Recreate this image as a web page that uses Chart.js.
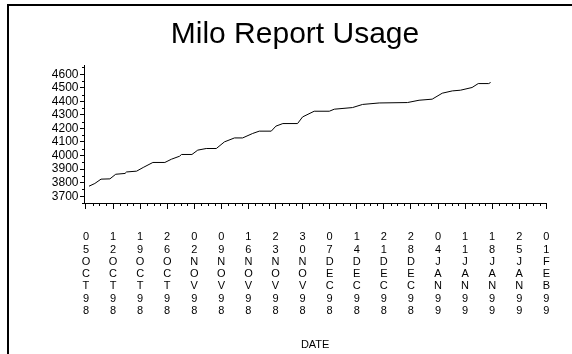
<!DOCTYPE html>
<html lang="en">
  <head>
    <meta charset="UTF-8" />
    <title>Milo Report Usage</title>
    <script src="https://cdn.jsdelivr.net/npm/chart.js"></script>
    <style>
      html, body { margin: 0; padding: 0; background: #fff; }
      #frame {
        position: absolute; left: 7px; top: 4px; width: 565px; height: 350px;
        border-left: 2px solid #000; border-top: 2px solid #000;
      }
      #title {
        position: absolute; left: 0; top: 15px; width: 590px;
        text-align: center; font: 30px/36px 'Liberation Sans', Arial, sans-serif;
        color: #000;
      }
      canvas { display: block; }
    </style>
  </head>
  <body>
    <div id="frame"><canvas id="chart" width="563" height="348"></canvas></div>
    <div id="title">Milo Report Usage</div>

    <script>
      // weekly tick labels, 05OCT98 = day 0
      const tickLabels = [
        "05OCT98", "12OCT98", "19OCT98", "26OCT98", "02NOV98", "09NOV98",
        "16NOV98", "23NOV98", "30NOV98", "07DEC98", "14DEC98", "21DEC98",
        "28DEC98", "04JAN99", "11JAN99", "18JAN99", "25JAN99", "01FEB99",
      ];
      const yTicks = [3700, 3800, 3900, 4000, 4100, 4200, 4300, 4400, 4500, 4600];

      // days since 05OCT98
      const dayOffsets = [
        0.8, 2.3, 3.9, 6.2, 7.7, 10.1, 10.5, 13.1, 14.8, 17.3, 20.4, 22.1,
        24.2, 24.7, 27.4, 28.9, 31.1, 33.7, 35.8, 38.4, 40.5, 43.1, 44.8,
        47.9, 49.1, 50.9, 54.7, 56.0, 59.0, 62.9, 64.2, 68.9, 71.5, 75.8,
        83.1, 86.1, 89.5, 92.1, 94.7, 96.8, 99.8, 101.4, 104.1, 104.6,
      ];
      const usage = [
        3774, 3794, 3826, 3828, 3862, 3868, 3879, 3885, 3912, 3949, 3949, 3973,
        3995, 4008, 4008, 4040, 4052, 4052, 4101, 4130, 4130, 4163, 4180,
        4180, 4217, 4236, 4236, 4285, 4327, 4327, 4342, 4354, 4377, 4388,
        4391, 4408, 4416, 4460, 4477, 4482, 4502, 4531, 4531, 4539,
      ];

      const FONT = "'Liberation Sans', Arial, sans-serif";

      // small in-between tick marks, like the original plot
      const minorTicks = {
        id: "minorTicks",
        afterDraw(chart) {
          const ctx = chart.ctx;
          const x = chart.scales.x;
          const y = chart.scales.y;
          ctx.save();
          ctx.strokeStyle = "#000";
          ctx.lineWidth = 1;
          ctx.beginPath();
          for (let w = 0; w < tickLabels.length - 1; w++) {
            for (let m = 1; m <= 3; m++) {
              const px = Math.round(x.getPixelForValue(w * 7 + m * 1.75)) + 0.5;
              ctx.moveTo(px, x.top);
              ctx.lineTo(px, x.top + 3);
            }
          }
          for (let v = 3650; v <= 4650; v += 100) {
            const py = Math.round(y.getPixelForValue(v)) + 0.5;
            ctx.moveTo(y.right - 2, py);
            ctx.lineTo(y.right, py);
          }
          ctx.stroke();
          ctx.restore();
        },
      };

      new Chart(document.getElementById("chart"), {
        type: "line",
        data: {
          datasets: [
            {
              data: dayOffsets.map((d, i) => ({ x: d, y: usage[i] })),
              borderColor: "#000",
              borderWidth: 1,
              pointRadius: 0,
              tension: 0,
            },
          ],
        },
        options: {
          responsive: false,
          animation: false,
          layout: { padding: { left: 0, right: 24, top: 59, bottom: 0 } },
          plugins: {
            legend: { display: false },
            tooltip: { enabled: false },
          },
          scales: {
            x: {
              type: "linear",
              min: -0.5,
              max: 119,
              afterBuildTicks: (s) => {
                s.ticks = tickLabels.map((_, i) => ({ value: i * 7 }));
              },
              afterFit: (s) => {
                s.height = 151;
              },
              ticks: {
                autoSkip: false,
                maxRotation: 0,
                color: "#000",
                padding: 22,
                font: { family: FONT, size: 11, lineHeight: 1.12 },
                callback: (v, i) => tickLabels[i].split(""),
              },
              grid: { drawOnChartArea: false, tickLength: 6, color: "#000" },
              border: { color: "#000" },
              title: {
                display: true,
                text: "DATE",
                color: "#000",
                font: { family: FONT, size: 11 },
                padding: { top: 1, bottom: 2.5 },
              },
            },
            y: {
              min: 3650,
              max: 4668,
              afterBuildTicks: (s) => {
                s.ticks = yTicks.map((v) => ({ value: v }));
              },
              afterFit: (s) => {
                s.width = 75;
              },
              ticks: {
                autoSkip: false,
                color: "#000",
                padding: 1.5,
                font: { family: FONT, size: 12 },
                callback: (v) => String(v),
              },
              grid: { drawOnChartArea: false, tickLength: 4, color: "#000" },
              border: { color: "#000" },
            },
          },
        },
        plugins: [minorTicks],
      });
    </script>
  </body>
</html>
